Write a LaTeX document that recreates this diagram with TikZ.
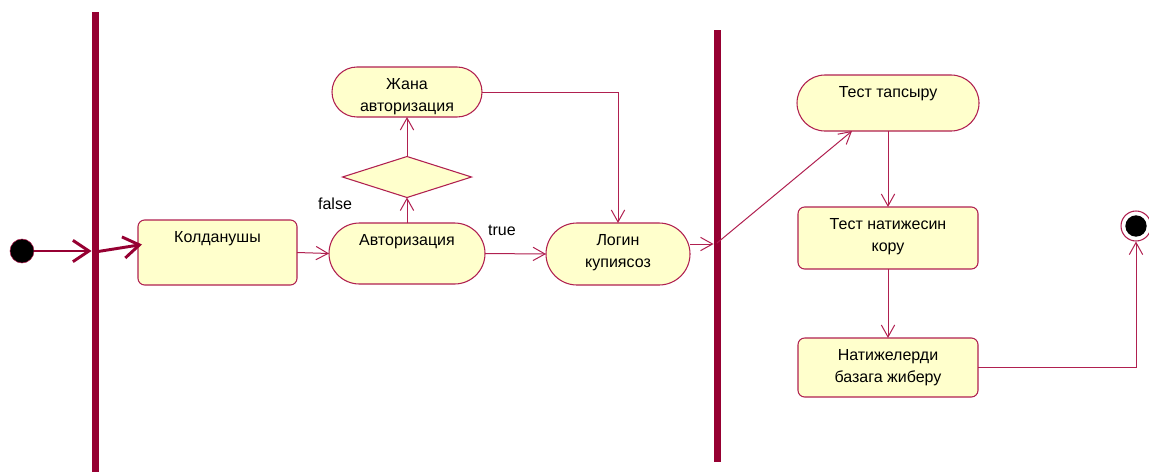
\documentclass[tikz,border=0pt]{standalone}
\usepackage{fontspec}
\setmainfont{Liberation Sans}
\usetikzlibrary{arrows.meta,shapes.misc,shapes.geometric,calc}
\definecolor{umlline}{RGB}{176,32,80}
\definecolor{umlfill}{RGB}{255,255,204}
\definecolor{swim}{RGB}{150,0,50}

\begin{document}
\begin{tikzpicture}[x=0.75pt,y=-0.75pt,
  font=\fontsize{12}{16.5}\selectfont,
  act/.style={draw=umlline,fill=umlfill,line width=0.8pt,inner sep=0pt,outer sep=0pt,align=center},
  box/.style={act,rounded corners=5pt},
  pill/.style={act,rounded rectangle},
  top/.style={label={[anchor=north,yshift=-5pt,align=center]north:#1}},
  flow/.style={draw=umlline,line width=0.75pt,-{Straight Barb[length=9pt,width=10pt]}},
  heavy/.style={draw=swim,line width=2.2pt,-{Straight Barb[length=12pt,width=16pt]}},
  bar/.style={draw=swim,line width=5.25pt}]
\useasboundingbox (0,0) rectangle (1149,472);
% swimlane bars
\draw[bar] (95,12) -- (95,472);
\draw[bar] (717,30) -- (717,462);
\coordinate (b1in) at (95,251);
\coordinate (b1out) at (95,252);
\coordinate (b2in) at (717,244);
\coordinate (b2out) at (717,243);

% start and end
\node[circle,fill=black,draw=umlline,minimum size=18pt,inner sep=0pt] (start) at (22,251) {};
\node[circle,draw=umlline,line width=0.8pt,fill=white,minimum size=22.5pt,inner sep=0pt,
  path picture={\fill[black] (path picture bounding box.center) circle (8pt);}] (fin) at (1136,226) {};

% activities
\node[box,minimum width=119.25pt,minimum height=48.75pt,top=Колданушы] (kol) at (217.5,252.5) {};
\node[pill,minimum width=117pt,minimum height=45.75pt,top=Авторизация] (avt) at (407,253.5) {};
\node[act,diamond,minimum width=96.75pt,minimum height=30.75pt] (dia) at (407,177) {};
\node[pill,minimum width=112.5pt,minimum height=37.5pt,top={Жана\\авторизация}] (zhana) at (407,92) {};
\node[pill,minimum width=108pt,minimum height=46.5pt,top={Логин\\купиясоз}] (login) at (618,254) {};
\node[pill,minimum width=136.5pt,minimum height=42pt,top=Тест тапсыру] (tapsyru) at (888,103) {};
\node[box,minimum width=135pt,minimum height=46.5pt,top={Тест натижесин\\кору}] (koru) at (888,238) {};
\node[box,minimum width=135pt,minimum height=44.25pt,top={Натижелерди\\базага жиберу}] (baza) at (888,367.5) {};

% guards
\node (false) at (335,204) {false};
\node (true) at (502,230) {true};

% flows
\draw[heavy,shorten >=2.6pt] (start) -- (b1in);
\draw[heavy] (b1out) -- ($(kol.west)+(4,-8)$);
\draw[flow] (kol.east) -- (avt.west);
\draw[flow] (avt.north) -- (dia.south);
\draw[flow] (dia.north) -- (zhana.south);
\draw[flow] (zhana.east) -| (login.north);
\draw[flow] (avt.east) -- (login.west);
\draw[flow,shorten >=2.6pt] (login.east |- b2in) -- (b2in);
\draw[flow] (b2out) -- ($(tapsyru.south)+(-36,0)$);
\draw[flow] (tapsyru.south) -- (koru.north);
\draw[flow] (koru.south) -- (baza.north);
\draw[flow] (baza.east) -| (fin.south);
\end{tikzpicture}
\end{document}
